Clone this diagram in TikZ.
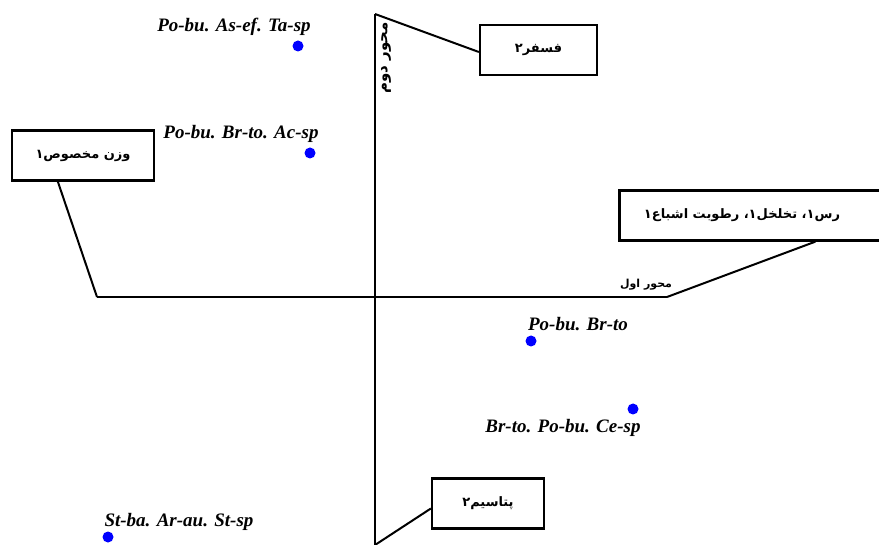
\documentclass[tikz,border=0pt]{standalone}
\usepackage{fontspec}
\setmainfont{Liberation Serif}
\newfontfamily\arabicfont[Script=Arabic]{DejaVu Sans}
\TeXXeTstate=1
\begin{document}
\begin{tikzpicture}
  [x=1pt,y=-1pt,line width=2pt,every node/.style={inner sep=0pt}]
  \tikzstyle{box} = [draw,line width=2.3pt,fill=white,minimum height=50pt,font=\arabicfont\bfseries\fontsize{13}{14}\selectfont]
  \tikzstyle{spot} = [circle,fill=blue,minimum size=11pt]
  \tikzstyle{site} = [font=\bfseries\itshape\fontsize{19}{20}\selectfont]
  \tikzstyle{axlabel} = [font=\arabicfont\bfseries\fontsize{11}{12}\selectfont]
  \useasboundingbox (0,0) rectangle (879,545);
  % axes
  \coordinate (vtop) at (375,14);
  \coordinate (vbot) at (375,545);
  \coordinate (hleft) at (97,297);
  \coordinate (hright) at (667,297);
  \draw (vtop) -- (vbot);
  \draw (hleft) -- (hright);
  \node[axlabel] (ax1) at (646,285) {\beginR محور اول\endR};
  \node[axlabel,rotate=90,font=\arabicfont\bfseries\fontsize{15}{16}\selectfont] (ax2) at (386,58) {\beginR محور دوم\endR};
  % boxes
  \node[box,minimum width=117pt] (p) at (538.5,50) {\beginR فسفر۲\endR};
  \node[box,minimum width=142pt] (sg) at (83,155.5) {\beginR وزن مخصوص۱\endR};
  \node[box,minimum width=265pt] (rs) at (752,215.5) {\hspace*{-20pt}\beginR رس۱، تخلخل۱، رطوبت اشباع۱\endR};
  \node[box,minimum width=112pt] (k) at (488,503.5) {\beginR پتاسیم۲\endR};
  \draw (vtop) -- ([yshift=-2pt]p.west);
  \draw (hleft) -- ([xshift=47pt]sg.south west);
  \draw (hright) -- ([xshift=197pt]rs.south west);
  \draw (vbot) -- ([yshift=-5pt]k.west);
  % sites
  \foreach \n/\px/\py/\lx/\ly/\t in {a/298/46/234/27/Po-bu. As-ef. Ta-sp,
      b/310/153/241/134/Po-bu. Br-to. Ac-sp, c/531/341/578/324/Po-bu. Br-to,
      d/633/409/563/428/Br-to. Po-bu. Ce-sp, e/108/537/179/522/St-ba. Ar-au. St-sp}
    {\node[spot] (\n) at (\px,\py) {};
     \node[site] (\n-l) at (\lx,\ly) {\t};}
\end{tikzpicture}
\end{document}
